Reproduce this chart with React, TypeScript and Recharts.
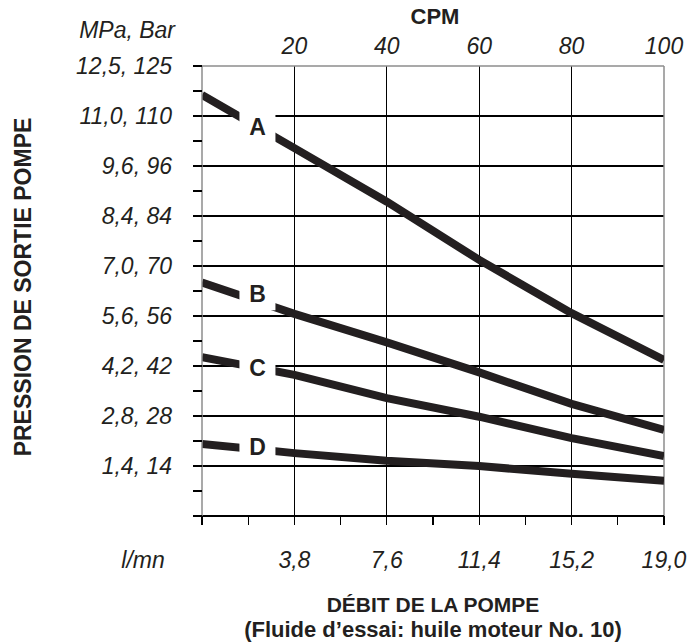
import { LineChart, Line, XAxis, YAxis, CartesianGrid, ReferenceDot, ReferenceLine } from "recharts";

// pump stroke rate (cycles per minute) on the top axis
const cpm = [0, 20, 40, 60, 80, 100];

// outlet pressure, bar
const seriesA = [117.9, 103, 88, 71.7, 56.8, 43.7];
const seriesB = [65.4, 56.6, 48.6, 40.2, 31.4, 24.1];
const seriesC = [44.5, 39.5, 33, 27.8, 21.8, 16.8];
const seriesD = [20.2, 17.6, 15.5, 14, 11.8, 9.9];
const seriesNames = ["A", "B", "C", "D"];
const seriesValues = [seriesA, seriesB, seriesC, seriesD];

const cpmTicks = [20, 40, 60, 80, 100];
const flowTicks = [0, 10, 20, 30, 40, 50, 60, 70, 80, 90, 100];
const flowLabels = ["3,8", "7,6", "11,4", "15,2", "19,0"];
const pressureTicks = [0, 7, 14, 21, 28, 35, 42, 49, 56, 63, 70, 77, 84, 91, 98, 105, 112, 119, 126];
const pressureLabels = ["1,4, 14", "2,8, 28", "4,2, 42", "5,6, 56", "7,0, 70", "8,4, 84", "9,6, 96", "11,0, 110", "12,5, 125"];
const gridPressures = [14, 28, 42, 56, 70, 84, 98, 112];
const gridCpm = [20, 40, 60, 80];

// where the A/B/C/D tags sit along the curves
const tagCpm = 12;

const INK = "#231f20";
const FRAME = "#8c8c8c";
const FONT = '"Liberation Sans", Arial, Helvetica, sans-serif';

const data = cpm.map((c, i) => ({
  cpm: c,
  A: seriesA[i],
  B: seriesB[i],
  C: seriesC[i],
  D: seriesD[i],
}));

const valueAt = (values: number[], x: number) => {
  for (let i = 0; i < cpm.length - 1; i++) {
    if (x >= cpm[i] && x <= cpm[i + 1]) {
      const t = (x - cpm[i]) / (cpm[i + 1] - cpm[i]);
      return values[i] + (values[i + 1] - values[i]) * t;
    }
  }
  return values[values.length - 1];
};

const tagNudge: Record<string, number> = { B: -8, D: -3 };

const SeriesTag = (props: any) => {
  const { cx, cy, name } = props;
  if (cx == null || cy == null) return null;
  const y = cy + (tagNudge[name] ?? 0);
  return (
    <g>
      <rect x={cx - 18} y={y - 17} width={36} height={34} fill="#fff" />
      <text x={cx} y={y} dy="0.36em" textAnchor="middle" fontSize={23} fontWeight="bold" fontFamily={FONT} fill={INK}>
        {name}
      </text>
    </g>
  );
};

const PressureCaption = (props: any) => {
  const vb = props.viewBox ?? { x: 0, y: 66, width: 202, height: 450 };
  const midY = vb.y + vb.height / 2 - 4;
  const titleX = vb.x + 31;
  return (
    <g fontFamily={FONT} fill={INK}>
      <text x={vb.x + vb.width - 27} y={vb.y - 28} textAnchor="end" fontSize={23} fontStyle="italic">
        MPa, Bar
      </text>
      <text
        x={titleX}
        y={midY}
        textAnchor="middle"
        fontSize={23}
        fontWeight="bold"
        transform={`rotate(-90, ${titleX}, ${midY})`}
      >
        PRESSION DE SORTIE POMPE
      </text>
    </g>
  );
};

const CpmCaption = (props: any) => {
  const vb = props.viewBox ?? { x: 202, y: 0, width: 462, height: 66 };
  return (
    <text x={vb.x + vb.width / 2 + 2} y={vb.y + 24} textAnchor="middle" fontSize={22} fontWeight="bold" fontFamily={FONT} fill={INK}>
      CPM
    </text>
  );
};

const FlowCaption = (props: any) => {
  const vb = props.viewBox ?? { x: 202, y: 516, width: 462, height: 126 };
  const cx = vb.x + vb.width / 2;
  return (
    <g fontFamily={FONT} fill={INK}>
      <text x={vb.x - 59} y={vb.y + 52} textAnchor="middle" fontSize={23} fontStyle="italic">
        l/mn
      </text>
      <text x={cx} y={vb.y + 96} textAnchor="middle" fontSize={21} fontWeight="bold">
        DÉBIT DE LA POMPE
      </text>
      <text x={cx} y={vb.y + 121} textAnchor="middle" fontSize={22} fontWeight="bold">
        (Fluide d’essai: huile moteur No. 10)
      </text>
    </g>
  );
};

const tickStyle = { fill: INK, fontSize: 23, fontStyle: "italic", fontFamily: FONT };

export default function App() {
  return (
    <div style={{ position: "absolute", left: 0, top: 0, width: 690, height: 642, background: "#fff", fontFamily: FONT }}>
      <LineChart width={690} height={642} data={data} margin={{ top: 0, right: 26, bottom: 0, left: 0 }}>
        <CartesianGrid
          xAxisId="cpm"
          yAxisId="p"
          horizontalValues={gridPressures}
          verticalValues={gridCpm}
          stroke="#000"
          strokeWidth={1.3}
          shapeRendering="crispEdges"
        />
        <XAxis
          xAxisId="cpm"
          orientation="top"
          type="number"
          dataKey="cpm"
          domain={[0, 100]}
          allowDataOverflow
          ticks={cpmTicks}
          interval={0}
          height={66}
          tickLine={false}
          tickSize={6}
          tickMargin={6}
          axisLine={{ stroke: FRAME, strokeWidth: 1.5 }}
          tick={tickStyle}
          label={<CpmCaption />}
        />
        <XAxis
          xAxisId="flow"
          orientation="bottom"
          type="number"
          dataKey="cpm"
          domain={[0, 100]}
          ticks={flowTicks}
          interval={0}
          height={126}
          tickSize={9}
          tickMargin={27}
          axisLine={{ stroke: "#000", strokeWidth: 1.3, shapeRendering: "crispEdges" }}
          tickLine={{ stroke: "#000", strokeWidth: 1.3, shapeRendering: "crispEdges" }}
          tick={tickStyle}
          tickFormatter={(v: number) => (v > 0 && v % 20 === 0 ? flowLabels[v / 20 - 1] : "")}
          label={<FlowCaption />}
        />
        <YAxis
          yAxisId="p"
          type="number"
          domain={[0, 126]}
          allowDataOverflow
          ticks={pressureTicks}
          interval={0}
          width={202}
          tickSize={9}
          tickMargin={21}
          axisLine={{ stroke: FRAME, strokeWidth: 1.5 }}
          tickLine={{ stroke: "#000", strokeWidth: 1.3, shapeRendering: "crispEdges" }}
          tick={tickStyle}
          tickFormatter={(v: number) => (v > 0 && v % 14 === 0 ? pressureLabels[v / 14 - 1] : "")}
          label={<PressureCaption />}
        />
        <ReferenceLine xAxisId="cpm" yAxisId="p" x={100} stroke={FRAME} strokeWidth={1.5} />
        {seriesNames.map((name) => (
          <Line
            key={name}
            xAxisId="cpm"
            yAxisId="p"
            type="linear"
            dataKey={name}
            stroke={INK}
            strokeWidth={8}
            strokeLinecap="butt"
            dot={false}
            activeDot={false}
            isAnimationActive={false}
          />
        ))}
        {seriesNames.map((name, i) => (
          <ReferenceDot
            key={`tag-${name}`}
            xAxisId="cpm"
            yAxisId="p"
            x={tagCpm}
            y={valueAt(seriesValues[i], tagCpm)}
            shape={(p: any) => <SeriesTag {...p} name={name} />}
          />
        ))}
      </LineChart>
    </div>
  );
}
